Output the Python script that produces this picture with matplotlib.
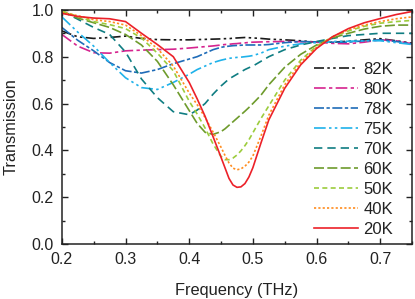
import matplotlib
matplotlib.use("Agg")
import matplotlib.pyplot as plt
from matplotlib.ticker import MultipleLocator

plt.rcParams['font.family'] = ['Liberation Sans', 'DejaVu Sans']

# frequency grid (THz)
freq = [0.20, 0.225, 0.25, 0.275, 0.30, 0.325, 0.35, 0.375, 0.40, 0.4125,
        0.425, 0.4375, 0.45, 0.45625, 0.4625, 0.46875, 0.475, 0.48125,
        0.4875, 0.49375, 0.50, 0.5125, 0.525,
        0.55, 0.575, 0.60, 0.625, 0.65, 0.675, 0.70, 0.725, 0.75]

t82 = [0.910, 0.885, 0.878, 0.882, 0.888, 0.878, 0.873, 0.872, 0.872, 0.873,
       0.874, 0.875, 0.876, 0.877, 0.877, 0.879, 0.880, 0.881,
       0.882, 0.881, 0.880, 0.878, 0.875,
       0.872, 0.868, 0.862, 0.862, 0.866, 0.872, 0.877, 0.868, 0.858]
t80 = [0.895, 0.845, 0.817, 0.815, 0.825, 0.828, 0.830, 0.832, 0.837, 0.840,
       0.843, 0.846, 0.850, 0.852, 0.853, 0.855, 0.856, 0.858,
       0.859, 0.861, 0.862, 0.863, 0.864,
       0.865, 0.864, 0.862, 0.857, 0.855, 0.862, 0.872, 0.868, 0.855]
t78 = [0.925, 0.870, 0.825, 0.775, 0.740, 0.730, 0.745, 0.770, 0.790, 0.800,
       0.815, 0.830, 0.840, 0.843, 0.845, 0.847, 0.848, 0.849,
       0.850, 0.850, 0.850, 0.850, 0.852,
       0.860, 0.865, 0.863, 0.862, 0.862, 0.868, 0.872, 0.865, 0.855]
t75 = [0.970, 0.905, 0.845, 0.775, 0.710, 0.668, 0.660, 0.690, 0.725, 0.745,
       0.760, 0.775, 0.785, 0.789, 0.793, 0.795, 0.797, 0.798,
       0.800, 0.802, 0.805, 0.815, 0.830,
       0.845, 0.855, 0.860, 0.865, 0.866, 0.868, 0.868, 0.860, 0.852]
t70 = [0.995, 0.960, 0.925, 0.895, 0.820, 0.705, 0.625, 0.565, 0.552, 0.572,
       0.600, 0.640, 0.675, 0.690, 0.705, 0.715, 0.725, 0.735,
       0.745, 0.753, 0.760, 0.780, 0.800,
       0.830, 0.850, 0.865, 0.878, 0.890, 0.895, 0.900, 0.900, 0.900]
t60 = [0.995, 0.965, 0.945, 0.925, 0.895, 0.850, 0.780, 0.680, 0.570, 0.515,
       0.477, 0.468, 0.480, 0.492, 0.507, 0.522, 0.537, 0.552,
       0.567, 0.583, 0.600, 0.635, 0.680,
       0.755, 0.810, 0.850, 0.880, 0.900, 0.918, 0.930, 0.935, 0.935]
t50 = [0.995, 0.972, 0.950, 0.937, 0.920, 0.880, 0.815, 0.740, 0.610, 0.555,
       0.495, 0.427, 0.374, 0.360, 0.360, 0.367, 0.380, 0.398,
       0.420, 0.445, 0.475, 0.535, 0.590,
       0.700, 0.785, 0.845, 0.885, 0.910, 0.930, 0.943, 0.950, 0.955]
t40 = [0.990, 0.975, 0.958, 0.950, 0.935, 0.890, 0.835, 0.760, 0.645, 0.595,
       0.540, 0.478, 0.413, 0.378, 0.346, 0.324, 0.317, 0.321,
       0.332, 0.350, 0.376, 0.460, 0.550,
       0.680, 0.775, 0.840, 0.885, 0.915, 0.935, 0.950, 0.962, 0.970]
t20 = [0.985, 0.972, 0.965, 0.962, 0.950, 0.900, 0.852, 0.800, 0.690, 0.620,
       0.545, 0.458, 0.370, 0.325, 0.280, 0.252, 0.242, 0.244,
       0.258, 0.286, 0.326, 0.430, 0.530,
       0.665, 0.765, 0.835, 0.885, 0.920, 0.945, 0.963, 0.980, 0.993]

labels = ["82K", "80K", "78K", "75K", "70K", "60K", "50K", "40K", "20K"]
series = [t82, t80, t78, t75, t70, t60, t50, t40, t20]
colors = ["#1a1a1a", "#d6248f", "#1f6cb8", "#1fb2ea", "#0f7d82",
          "#6e9b2c", "#9ccc3c", "#ff8c1e", "#ec2129"]
styles = [(0, (6, 2, 1.5, 2, 1.5, 2)), (0, (7, 2, 2, 2)), (0, (6, 1.5, 2, 1.5)),
          (0, (7, 2, 1.5, 2, 1.5, 2)), (0, (5, 3)), (0, (6, 2)),
          (0, (3, 2)), (0, (1.3, 1.3)), "-"]

fig = plt.figure(figsize=(4.15, 2.99), dpi=100)
ax = fig.add_axes([0.149, 0.184, 0.844, 0.783])

for y, lab, c, ls in zip(series, labels, colors, styles):
    ax.plot(freq, y, color=c, linestyle=ls, linewidth=1.2, label=lab)

ax.set_xlim(0.2, 0.75)
ax.set_ylim(0.0, 1.0)
ax.xaxis.set_major_locator(MultipleLocator(0.1))
ax.xaxis.set_minor_locator(MultipleLocator(0.05))
ax.yaxis.set_major_locator(MultipleLocator(0.2))
ax.yaxis.set_minor_locator(MultipleLocator(0.1))
ax.tick_params(which="both", direction="in", top=True, right=True,
               width=1.0, labelsize=11.5, colors="#222222", pad=6)
ax.tick_params(which="major", length=4.3)
ax.tick_params(which="minor", length=2.3)
for s in ax.spines.values():
    s.set_linewidth(1.1)
    s.set_color("#222222")

ax.set_xlabel("Frequency (THz)", fontsize=11.8, color="#222222", labelpad=11)
ax.set_ylabel("Transmission", fontsize=11.8, color="#222222", labelpad=9)

leg = ax.legend(loc="upper left", frameon=False, fontsize=12,
                handlelength=2.65, handletextpad=0.3, labelspacing=0.3,
                borderpad=0, borderaxespad=0, bbox_to_anchor=(0.72, 0.778))
for t in leg.get_texts():
    t.set_color("#222222")

fig.savefig("out.png", dpi=100)
